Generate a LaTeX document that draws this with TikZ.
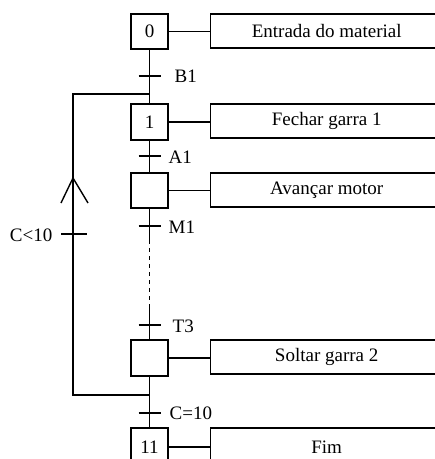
\documentclass[tikz,border=0pt]{standalone}
\usepackage{fontspec}
\setmainfont{Liberation Serif}
\begin{document}
\begin{tikzpicture}[x=1pt,y=-1pt,line width=1.4pt,
  txt/.style={font=\fontsize{19}{22}\selectfont},
  stepbox/.style={draw,txt,minimum width=37pt,minimum height=35pt,inner sep=0pt},
  actbox/.style={draw,txt,anchor=west,minimum width=232pt,minimum height=34pt,inner sep=0pt},
  lbl/.style={txt,anchor=west,inner sep=0pt}]
\useasboundingbox (0,0) rectangle (435,459);
\clip (0,0) rectangle (435,459);
\fill[white] (0,0) rectangle (435,459);
% steps
\node[stepbox] (s0) at (149.5,31.5) {0};
\node[stepbox,minimum height=36pt] (s1) at (149.5,122) {1};
\node[stepbox] (s2) at (149.5,190.5) {};
\node[stepbox,minimum height=36pt] (s3) at (149.5,358) {};
\node[stepbox,minimum height=38pt] (s11) at (149.5,447) {};
\node[txt,inner sep=0pt] (n11) at (149.5,447) {11};
% actions
\node[actbox] (a0) at (210,31) {Entrada do material};
\node[actbox] (a1) at (210,121) {Fechar garra 1};
\node[actbox] (a2) at (210,190) {Avançar motor};
\node[actbox] (a3) at (210,357) {Soltar garra 2};
\node[actbox,minimum height=38pt] (a11) at (210,447) {Fim};
\foreach \s/\a in {s0/a0,s1/a1,s2/a2,s3/a3,s11/a11}
  \draw (\s.east) -- (\s.east -| \a.west);
% transitions
\coordinate (tB1) at (149.5,76);
\coordinate (tA1) at (149.5,156);
\coordinate (tM1) at (149.5,226);
\coordinate (tT3) at (149.5,325);
\coordinate (tC) at (149.5,413);
\coordinate (dA) at (149.5,240);
\coordinate (dB) at (149.5,305);
\coordinate (lj) at (149.5,94);
\coordinate (lb) at (149.5,395);
\coordinate (cl1) at (73,395);
\coordinate (cl2) at (73,94);
\coordinate (arrtip) at (73,178);
\coordinate (tLoop) at (73,234);
% main line
\draw (s0.south) -- (s1.north);
\draw (s1.south) -- (s2.north);
\draw (s2.south) -- (dA);
\draw[dash pattern=on 4pt off 4pt] (dA) -- (dB);
\draw (dB) -- (s3.north);
\draw (s3.south) -- (s11.north);
% ticks
\foreach \t in {tB1,tA1,tM1,tT3,tC}
  \draw ([xshift=-11pt]\t) -- ([xshift=11pt]\t);
\node[lbl] (lB1) at (174,76) {B1};
\node[lbl] (lA1) at (168,157) {A1};
\node[lbl] (lM1) at (168,227) {M1};
\node[lbl] (lT3) at (172,326) {T3};
\node[lbl] (lC) at (169,413) {C=10};
% loop
\draw (lb) -- (cl1) -- (cl2) -- (lj);
\draw ([shift={(-12,25)}]arrtip) -- (arrtip) -- ([shift={(15,25)}]arrtip);
\draw ([xshift=-12pt]tLoop) -- ([xshift=14pt]tLoop);
\node[txt,anchor=east,inner sep=0pt] (lLoop) at (53,235) {C<10};
\end{tikzpicture}
\end{document}
